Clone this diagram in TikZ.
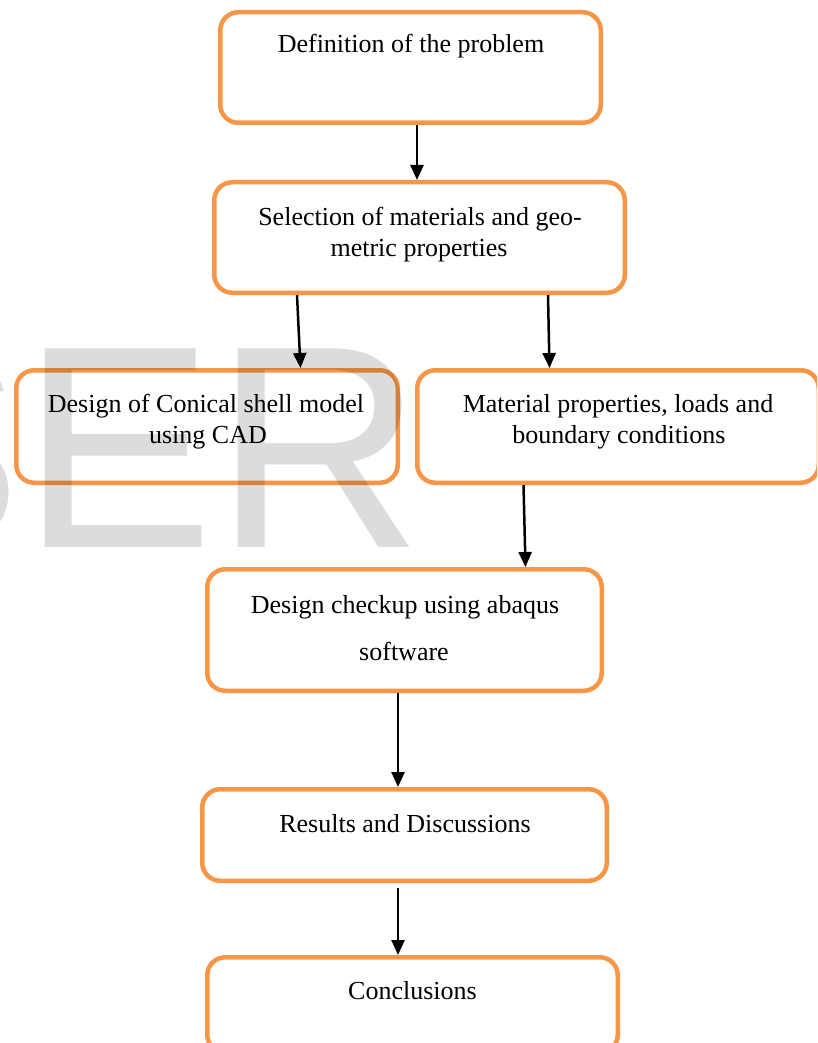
\documentclass[tikz,border=0pt]{standalone}
\usepackage{fontspec}
\setmainfont{Liberation Serif}
\newfontfamily\wmfont{Liberation Sans}
\usetikzlibrary{arrows.meta}
\definecolor{boxorange}{RGB}{247,150,70}
\definecolor{wmgray}{RGB}{220,220,220}
\tikzset{
  flowbox/.style={draw=boxorange, line width=4.5pt, rounded corners=18pt, inner sep=0pt},
  txt/.style={anchor=base, inner sep=0pt, font=\fontsize{26}{31}\selectfont},
  conn/.style={draw=black, line width=2.5pt, -{Triangle[length=15pt,width=13pt]}},
}
\begin{document}
\begin{tikzpicture}[x=1pt,y=-1pt]
\useasboundingbox (0,0) rectangle (817,1043);
\clip (0,0) rectangle (817,1043);
% boxes (outer size minus line width)
\node[flowbox, minimum width=380.5pt, minimum height=110.5pt] (b1) at (410.5,67.5) {};
\node[flowbox, minimum width=410.5pt, minimum height=110.5pt] (b2) at (419.5,237.5) {};
\node[flowbox, minimum width=381.5pt, minimum height=112.5pt] (b3) at (207,426.5) {};
\node[flowbox, minimum width=401.5pt, minimum height=112.5pt] (b4) at (618,426.5) {};
\node[flowbox, minimum width=394.5pt, minimum height=121.5pt] (b5) at (404.5,630) {};
\node[flowbox, minimum width=404.5pt, minimum height=91.5pt] (b6) at (404.5,835) {};
\node[flowbox, minimum width=410.5pt, minimum height=95.5pt] (b7) at (412.5,1005) {};
% texts
\node[txt] (t1) at (411,53) {Definition of the problem};
\node[txt] (t2a) at (420,225) {Selection of materials and geo-};
\node[txt] (t2b) at (419,256) {metric properties};
\node[txt] (t3a) at (206,412) {Design of Conical shell model};
\node[txt] (t3b) at (208,443) {using CAD};
\node[txt] (t4a) at (618,412) {Material properties, loads and};
\node[txt] (t4b) at (619,443) {boundary conditions};
\node[txt] (t5a) at (405,613) {Design checkup using abaqus};
\node[txt] (t5b) at (404,660) {software};
\node[txt] (t6) at (405,832) {Results and Discussions};
\node[txt] (t7) at (412.5,999) {Conclusions};
% connectors
\draw[conn] ([xshift=6.5pt]b1.south) -- ([xshift=-2.5pt]b2.north);
\draw[conn] ([xshift=-122.5pt]b2.south) -- ([xshift=93.5pt]b3.north);
\draw[conn] ([xshift=128.5pt]b2.south) -- ([xshift=-68.5pt]b4.north);
\draw[conn] ([xshift=-94.5pt]b4.south) -- ([xshift=121pt]b5.north);
\draw[conn] ([xshift=-6.5pt]b5.south) -- ([xshift=-6.5pt]b6.north);
\draw[conn] ([xshift=-6.5pt,yshift=-5pt]b6.south) -- ([xshift=-14.5pt]b7.north);
% watermark
\begin{scope}[blend mode=multiply]
\node[anchor=base west, inner sep=0pt, text=wmgray, font=\wmfont\fontsize{289}{289}\selectfont] (wm) at (-171,547) {SER};
\end{scope}
\end{tikzpicture}
\end{document}
